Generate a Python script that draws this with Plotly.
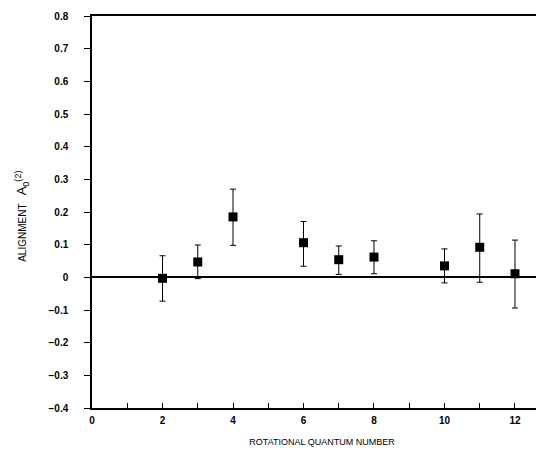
import plotly.graph_objects as go

j_values = [2, 3, 4, 6, 7, 8, 10, 11, 12]
alignment = [-0.003, 0.047, 0.185, 0.106, 0.054, 0.062, 0.035, 0.092, 0.011]
err_plus = [0.069, 0.052, 0.085, 0.065, 0.042, 0.050, 0.052, 0.102, 0.103]
err_minus = [0.070, 0.051, 0.087, 0.072, 0.045, 0.051, 0.052, 0.107, 0.105]

x_ticks = [0, 2, 4, 6, 8, 10, 12]
y_ticks = [round(-0.4 + 0.1 * i, 1) for i in range(13)]
y_tick_text = ["0" if v == 0 else ("%.1f" % v).replace("-", "\u2212") for v in y_ticks]

fig = go.Figure()
fig.add_trace(go.Scatter(
    x=j_values, y=alignment, mode="markers",
    marker=dict(symbol="square", size=9, color="black"),
    error_y=dict(type="data", symmetric=False, array=err_plus, arrayminus=err_minus,
                 color="black", thickness=1, width=3),
    showlegend=False,
))

fig.update_layout(
    width=544, height=460,
    margin=dict(l=84, r=0, t=8, b=60),
    paper_bgcolor="white", plot_bgcolor="white",
    font=dict(family="Arial, Liberation Sans, sans-serif", color="black"),
    xaxis=dict(
        range=[0, 13.05], tickvals=x_ticks, ticktext=[str(v) for v in x_ticks],
        ticks="inside", ticklen=5, tickcolor="black", tickwidth=1,
        minor=dict(dtick=1, tick0=0, ticks="inside", ticklen=5, tickcolor="black", showgrid=False),
        showline=True, linecolor="black", linewidth=1.5, mirror=True,
        showgrid=False, zeroline=False, automargin=False,
        tickfont=dict(size=10, weight="bold"), ticklabelstandoff=2,
        title=dict(text="ROTATIONAL QUANTUM NUMBER", font=dict(size=9), standoff=14),
    ),
    yaxis=dict(
        range=[-0.4, 0.8], tickvals=y_ticks, ticktext=y_tick_text,
        ticks="outside", ticklen=6, tickcolor="black", tickwidth=1,
        showline=True, linecolor="black", linewidth=1.5, mirror=False,
        showgrid=False, zeroline=True, zerolinecolor="black", zerolinewidth=2,
        automargin=False,
        tickfont=dict(size=10, weight="bold"), ticklabelstandoff=14,
        title=dict(text="ALIGNMENT   <span style='font-size:13px'>A<sub>0</sub><sup>(2)</sup></span>&nbsp;&nbsp;&nbsp;",
                   font=dict(size=10), standoff=20),
    ),
)

fig.write_html("out.html")
